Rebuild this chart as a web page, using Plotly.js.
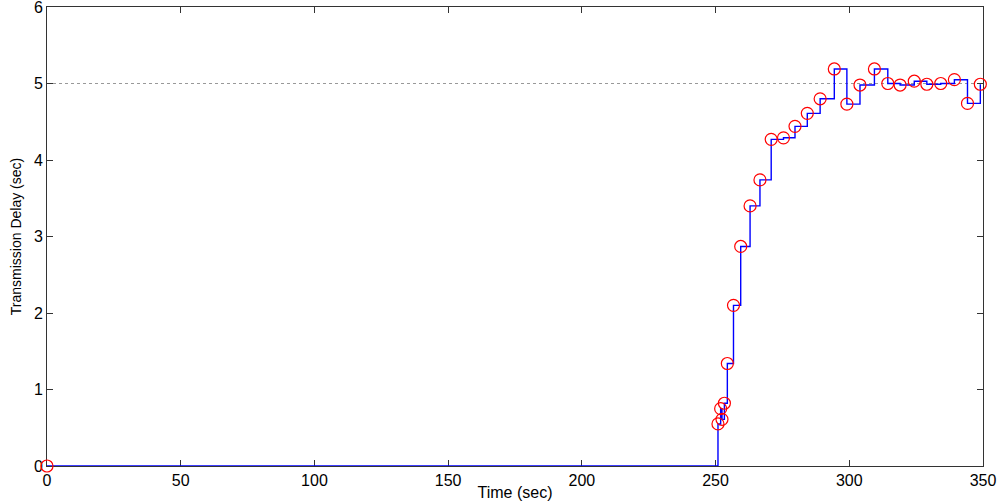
<!DOCTYPE html>
<html>
<head>
<meta charset="utf-8">
<script src="https://cdn.plot.ly/plotly-3.0.1.min.js"></script>
<style>html,body{margin:0;padding:0;background:#fff;}#chart{width:1000px;height:501px;}</style>
</head>
<body>
<div id="chart"></div>
<script>
// Sample times (sec)
var timeSec = [0, 250.9, 251.9, 252.4, 253.3, 254.4, 256.7, 259.4, 262.9, 266.6, 270.8, 275.4, 279.7, 284.3, 289.1, 294.4, 299.1, 304.0, 309.4, 314.4, 319.0, 324.3, 329.0, 334.2, 339.3, 344.2, 349.0];
// Transmission delay (sec)
var delaySec = [0, 0.55, 0.75, 0.61, 0.82, 1.34, 2.10, 2.87, 3.40, 3.74, 4.27, 4.29, 4.44, 4.61, 4.80, 5.19, 4.73, 4.98, 5.19, 5.00, 4.98, 5.03, 4.99, 5.00, 5.05, 4.74, 4.99];
var refLevel = 5;
var xTicks = [0, 50, 100, 150, 200, 250, 300, 350];
var yTicks = [0, 1, 2, 3, 4, 5, 6];

var fontFam = '"Liberation Sans", Arial, Helvetica, sans-serif';

var traces = [
  {
    x: timeSec, y: delaySec, type: 'scatter', mode: 'lines', cliponaxis: false,
    line: {shape: 'hv', color: '#0000ff', width: 1.4},
    hoverinfo: 'skip', showlegend: false
  },
  {
    x: timeSec, y: delaySec, type: 'scatter', mode: 'markers', cliponaxis: false,
    marker: {symbol: 'circle-open', size: 12, color: '#ff0000', line: {width: 1.2, color: '#ff0000'}},
    showlegend: false
  }
];

var layout = {
  width: 1000, height: 501,
  margin: {l: 47, r: 17, t: 7, b: 35},
  paper_bgcolor: '#ffffff', plot_bgcolor: '#ffffff',
  font: {family: fontFam, color: '#000', size: 16},
  xaxis: {
    range: [0, 350], tickvals: xTicks, ticktext: xTicks.map(String),
    ticks: 'inside', ticklen: 6, tickcolor: '#333', tickwidth: 1,
    showline: true, linecolor: '#333', linewidth: 1, mirror: 'ticks',
    showgrid: false, zeroline: false, ticklabeloverflow: 'allow', layer: 'below traces',
    tickfont: {size: 16, family: fontFam},
    title: {text: 'Time (sec)', font: {size: 16, family: fontFam}, standoff: 0}
  },
  yaxis: {
    range: [0, 6], tickvals: yTicks, ticktext: yTicks.map(String),
    ticks: 'inside', ticklen: 6, tickcolor: '#333', tickwidth: 1,
    showline: true, linecolor: '#333', linewidth: 1, mirror: 'ticks',
    showgrid: false, zeroline: false, ticklabeloverflow: 'allow', layer: 'below traces',
    tickfont: {size: 16, family: fontFam},
    title: {text: 'Transmission Delay (sec)', font: {size: 14, family: fontFam}, standoff: 8}
  },
  shapes: [
    {type: 'line', xref: 'x', yref: 'y', x0: 0, x1: 350, y0: refLevel, y1: refLevel,
     line: {color: '#999999', width: 1, dash: 'dot'}, layer: 'below'}
  ]
};

Plotly.newPlot('chart', traces, layout, {staticPlot: true, displayModeBar: false});
</script>
</body>
</html>
